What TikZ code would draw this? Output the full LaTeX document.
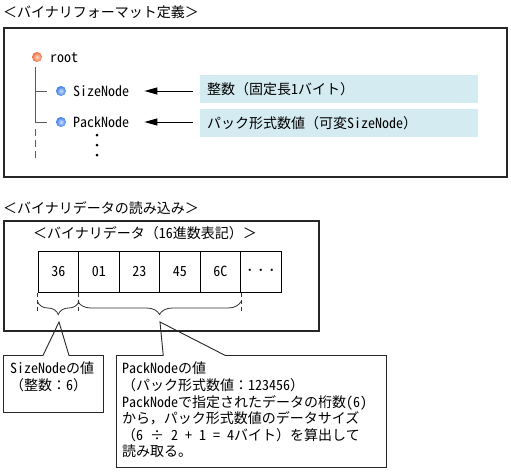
\documentclass[tikz,border=0pt]{standalone}
\usepackage{fontspec}
\setmainfont{Noto Sans CJK JP}
\newfontfamily\hwfont{Noto Sans CJK JP}[RawFeature=+hwid]
\newcommand\hw[1]{{\hwfont #1}}
\usetikzlibrary{arrows.meta,decorations.pathreplacing,shapes.callouts,calc}
\definecolor{boxblue}{RGB}{212,235,241}
\definecolor{treeg}{RGB}{90,90,90}
\definecolor{rootc}{RGB}{240,110,60}
\definecolor{nodec}{RGB}{60,125,235}
\begin{document}
\begin{tikzpicture}[x=1pt,y=-1pt,
  every node/.style={font=\fontsize{14}{16.6}\selectfont},
  lbl/.style={anchor=base west, inner sep=0pt},
  frame/.style={draw=black!85, line width=1.5pt, anchor=north west, inner sep=0pt},
  cell/.style={draw, line width=1pt, minimum width=40.5pt, minimum height=41pt, inner sep=0pt,
    font=\hwfont\fontsize{14}{16}\selectfont},
  bluebox/.style={fill=boxblue, minimum width=278pt, minimum height=28pt, text width=264pt,
    align=left, inner xsep=7pt, inner ysep=0pt, anchor=north west},
  arr/.style={-{Triangle[length=13pt,width=7pt]}, line width=1pt},
  ico/.style={circle, inner sep=0pt, minimum size=10pt, shade, shading=radial,
    inner color=#1!25!white, outer color=#1},
  tree/.style={draw=treeg, line width=1pt},
  dashv/.style={draw=black!80, line width=0.8pt, dash pattern=on 4pt off 3pt},
  bracest/.style={draw=black!80, line width=0.8pt, decorate,
    decoration={brace, mirror, amplitude=13pt}},
  callbox/.style={rectangle callout, draw=black!85, line width=0.9pt, fill=white,
    anchor=north west, inner sep=0pt},
  calltext/.style={anchor=north west, inner sep=0pt, align=left}
]
\useasboundingbox (0,0) rectangle (511,471);

% ---------- section 1 ----------
\node[lbl] (t1) at (3,17) {＜バイナリフォーマット定義＞};
\node[frame, minimum width=503pt, minimum height=149pt] (f1) at (3,27) {};

\node[ico=rootc] (ir) at (37,57) {};
\node[lbl] (root) at (50,62) {\hw{root}};
\node[ico=nodec] (isz) at (61,91) {};
\node[lbl] (sz) at (73,96) {\hw{SizeNode}};
\node[ico=nodec] (ipk) at (61,122) {};
\node[lbl] (pk) at (73,127) {\hw{PackNode}};

\coordinate (tv) at (35.5,67);
\draw[tree] (tv) |- ([xshift=-9pt]ipk.west);
\draw[tree] (tv |- isz) -- ([xshift=-9pt]isz.west);
\draw[tree, dash pattern=on 7pt off 4pt] (tv |- ipk) ++(0,7) -- ++(0,31);

\fill (97,135) circle (1.5);
\fill (97,145) circle (1.5);
\fill (97,155) circle (1.5);

\node[bluebox] (b1) at (200,75) {整数（固定長\hw{1}バイト）};
\node[bluebox] (b2) at (200,109) {パック形式数値（可変\hw{SizeNode}）};

\draw[arr] ($(b1.west |- isz)+(-7,0)$) -- ($(sz.east |- isz)+(15,0)$);
\draw[arr] ($(b2.west |- ipk)+(-7,0)$) -- ($(pk.east |- ipk)+(15,0)$);

% ---------- section 2 ----------
\node[lbl] (t2) at (3,213) {＜バイナリデータの読み込み＞};
\node[lbl] (t3) at (33,238) {＜バイナリデータ（\hw{16}進数表記）＞};

\node[cell] (c1) at (58.25,271.5) {36};
\node[cell] (c2) at (98.75,271.5) {01};
\node[cell] (c3) at (139.25,271.5) {23};
\node[cell] (c4) at (179.75,271.5) {45};
\node[cell] (c5) at (220.25,271.5) {6C};
\node[cell, font=\fontsize{11}{12}\selectfont] (c6) at (260.75,271.5) {・・・};

\draw[dashv] (c1.south west) -- ++(0,20);
\draw[dashv] (c2.south west) -- ++(0,20);
\draw[dashv] (c5.south east) -- ++(0,20);
\draw[bracest] ($(c1.south west)+(0,9)$) -- ($(c1.south east)+(0,9)$);
\draw[bracest] ($(c2.south west)+(0,9)$) -- ($(c5.south east)+(0,9)$);

\coordinate (p1) at (59,322);
\coordinate (p2) at (160,322);
\node[callbox, minimum width=100pt, minimum height=57pt,
  callout absolute pointer={(p1)}, callout pointer width=26pt] (co1) at (3,355) {};
\node[callbox, minimum width=270pt, minimum height=112pt,
  callout absolute pointer={(p2)}, callout pointer width=62pt] (co2) at (116,355) {};

\node[calltext] (tx1) at (10,362) {\hw{SizeNode}の値\\（整数：\hw{6}）};
\node[calltext] (tx2) at (122,362) {\hw{PackNode}の値\\（パック形式数値：\hw{123456}）\\
  \hw{PackNode}で指定されたデータの桁数\hw{(6)}\\から，パック形式数値のデータサイズ\\
  （\hw{6 ÷ 2 + 1 = 4}バイト）を算出して\\読み取る。};

\node[frame, minimum width=315pt, minimum height=110pt] (f2) at (3,220) {};
\end{tikzpicture}
\end{document}
